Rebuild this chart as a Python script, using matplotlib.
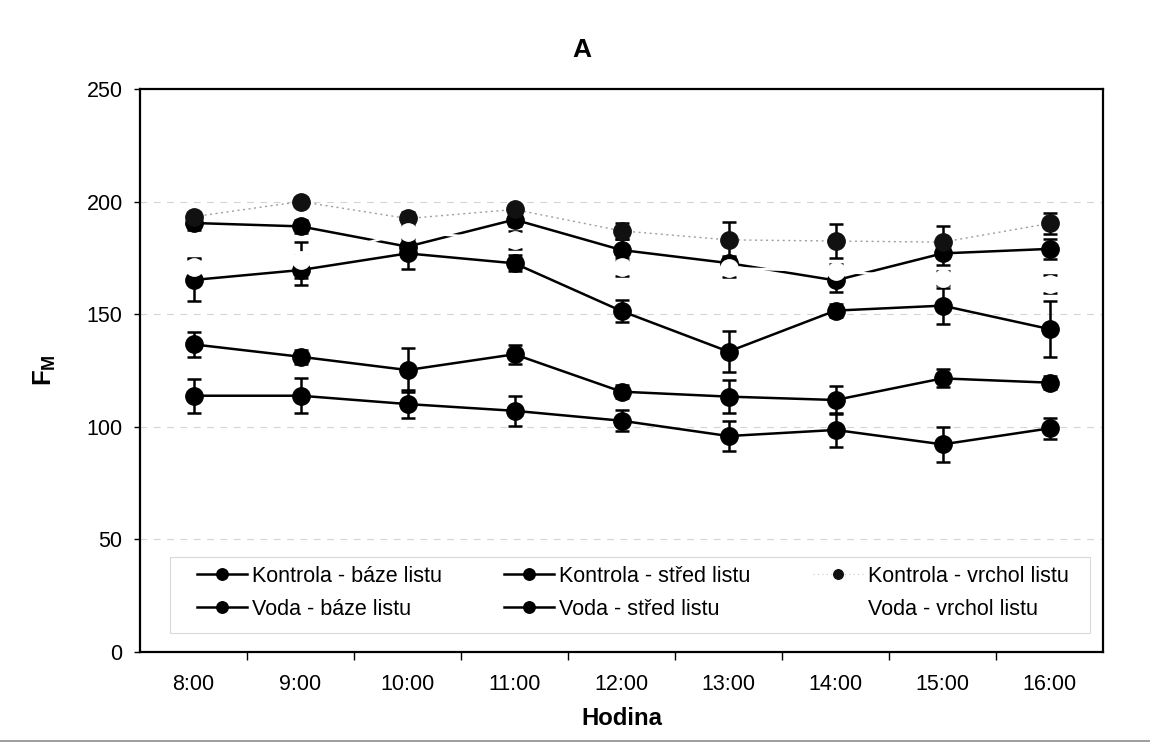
import matplotlib
matplotlib.use("Agg")
import matplotlib.pyplot as plt
from matplotlib.lines import Line2D
from matplotlib.patches import Rectangle
import numpy as np

plt.rcParams['font.family'] = ['Liberation Sans', 'DejaVu Sans']
plt.rcParams['mathtext.fontset'] = 'custom'
plt.rcParams['mathtext.rm'] = 'Liberation Sans'
plt.rcParams['mathtext.bf'] = 'Liberation Sans:bold'

hours = ["8:00", "9:00", "10:00", "11:00", "12:00", "13:00", "14:00", "15:00", "16:00"]

# Fm values (mean) and error bars per series
kontrola_baze = [136.6, 131.1, 125.2, 132.2, 115.6, 113.4, 111.9, 121.5, 119.6]
kontrola_baze_err = [5.5, 3.0, 9.6, 4.2, 3.0, 7.2, 6.0, 4.0, 3.0]

kontrola_stred = [190.5, 189.0, 180.0, 192.0, 178.5, 172.7, 165.0, 177.0, 179.0]
kontrola_stred_err = [3.0, 3.0, 3.0, 3.0, 5.0, 3.0, 5.3, 5.3, 4.5]

kontrola_vrchol = [193.3, 200.0, 192.5, 196.5, 187.0, 183.0, 182.5, 182.0, 190.3]
kontrola_vrchol_err = [2.0, 2.0, 3.0, 2.0, 3.5, 7.8, 7.5, 7.0, 4.7]

voda_baze = [113.8, 113.8, 110.1, 107.1, 102.7, 95.9, 98.6, 92.2, 99.3]
voda_baze_err = [7.6, 7.8, 6.3, 6.7, 4.7, 6.5, 7.5, 7.8, 4.5]

voda_stred = [165.2, 169.6, 177.0, 172.6, 151.4, 133.4, 151.6, 153.8, 143.4]
voda_stred_err = [9.3, 6.7, 6.8, 3.5, 5.0, 9.2, 3.0, 8.0, 12.6]

voda_vrchol = [171.0, 174.0, 186.5, 183.0, 171.0, 170.5, 169.0, 166.0, 163.5]
voda_vrchol_err = [4.0, 8.0, 2.0, 4.0, 4.0, 4.0, 3.5, 3.0, 4.0]

FS = 15.5
MS = 12.5
LW = 1.8

fig = plt.figure(figsize=(11.5, 7.42), dpi=100)
ax = fig.add_axes([140 / 1150, 1 - 652 / 742, 963 / 1150, 563 / 742])

x = np.arange(len(hours))

def draw_series(vals, errs, color='black', ls='-', lw=LW, mfc='black', mec='black', z=3, ecolor='black', ez=None):
    ax.errorbar(x, vals, yerr=errs, fmt='none', ecolor=ecolor, elinewidth=1.8,
                capsize=4.8, capthick=1.8, zorder=z if ez is None else ez)
    ax.plot(x, vals, color=color, ls=ls, lw=lw, marker='o', ms=MS,
            mfc=mfc, mec=mec, zorder=z)

draw_series(kontrola_baze, kontrola_baze_err)
draw_series(kontrola_stred, kontrola_stred_err)
draw_series(kontrola_vrchol, kontrola_vrchol_err, color='#a0a0a0', ls=(0, (1.5, 2.5)), lw=1.0,
            mfc='#111111', mec='#111111')
draw_series(voda_baze, voda_baze_err)
draw_series(voda_stred, voda_stred_err)
draw_series(voda_vrchol, voda_vrchol_err, color='white', mfc='white', mec='white', z=5, ez=4)

# axes styling
ax.set_xlim(-0.5, len(hours) - 0.5)
ax.set_ylim(0, 250)
ax.set_yticks(np.arange(0, 251, 50))
ax.tick_params(axis='y', length=4, width=1, direction='out', pad=8.5, labelsize=FS)
ax.set_xticks(x)
ax.set_xticklabels(hours)
ax.tick_params(axis='x', which='major', length=0, pad=16, labelsize=FS)
ax.set_xticks(np.arange(0.5, len(hours) - 1, 1.0), minor=True)
ax.tick_params(axis='x', which='minor', length=6, width=1, direction='out')
for s in ax.spines.values():
    s.set_linewidth(1.6)
    s.set_color('black')

for yv in [50, 100, 150, 200]:
    ax.axhline(yv, color='#d4d4d4', lw=0.8, ls=(0, (6, 6)), zorder=1)

ax.set_xlabel('Hodina', fontsize=17.2, fontweight='bold')
ax.xaxis.set_label_coords(0.5, -(707 - 652) / 563)
ax.set_ylabel(r'$\mathbf{F}_{\mathbf{M}}$', fontsize=18.5)
ax.yaxis.set_label_coords((58 - 140) / 963, 0.5)
fig.text(582 / 1150, 1 - 50 / 742, 'A', fontsize=19, fontweight='bold', ha='center', va='center')

# legend
h_line = dict(color='black', lw=LW, marker='o', ms=MS * 0.66, mfc='black', mec='black')
hk_b = Line2D([], [], **h_line)
hk_s = Line2D([], [], **h_line)
hk_v = Line2D([], [], color='#c8c8c8', lw=0.8, ls=(0, (1, 3)), marker='o', ms=MS * 0.55,
              mfc='#111111', mec='#111111')
hv_b = Line2D([], [], **h_line)
hv_s = Line2D([], [], **h_line)
hv_v = Line2D([], [], color='white', lw=LW, marker='o', ms=MS * 0.62, mfc='white', mec='white')

handles = [hk_b, hv_b, hk_s, hv_s, hk_v, hv_v]
labels = ['Kontrola - báze listu', 'Voda - báze listu',
          'Kontrola - střed listu', 'Voda - střed listu',
          'Kontrola - vrchol listu', 'Voda - vrchol listu']
leg = ax.legend(handles, labels, ncol=3, loc='upper left',
                bbox_to_anchor=((197 - 140) / 963, (652 - 566) / 563),
                frameon=False, borderpad=0, borderaxespad=0, fontsize=FS,
                handlelength=2.3, handletextpad=0.25, columnspacing=2.9,
                labelspacing=0.55)
leg.set_zorder(6)
ax.add_patch(Rectangle(((170 - 140) / 963, (652 - 633) / 563), (1090 - 170) / 963, (633 - 557) / 563,
                       transform=ax.transAxes, fill=True, facecolor='white', edgecolor='#d8d8d8',
                       lw=0.8, zorder=2))

# bottom border line of the figure
fig.add_artist(Line2D([0, 1], [1.2 / 742, 1.2 / 742], color='#8c8c8c', lw=1.2, transform=fig.transFigure))

fig.savefig('out.png', dpi=100)
